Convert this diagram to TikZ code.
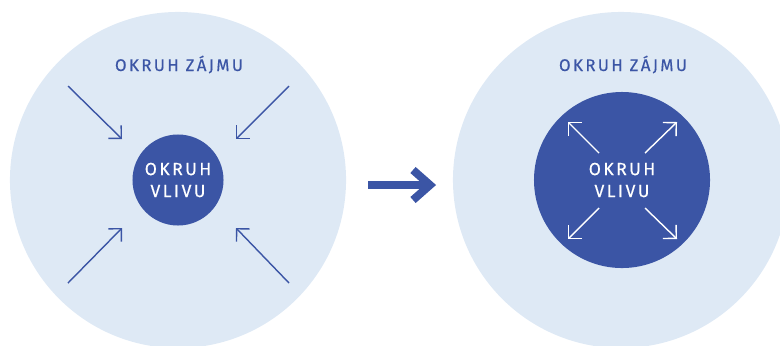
\documentclass[tikz,border=0pt]{standalone}
\usepackage{fontspec}
\setmainfont{Fira Sans}
\newfontfamily\spaced[LetterSpace=14,FakeBold=0.4]{Fira Sans}
\usetikzlibrary{arrows.meta}
\definecolor{okblue}{RGB}{59,85,165}
\definecolor{oklight}{RGB}{222,233,245}

\begin{document}
\begin{tikzpicture}[x=0.025cm,y=-0.025cm,
  zone/.style={circle,fill=oklight,minimum size=8.4cm,inner sep=0pt},
  core/.style={circle,fill=okblue,inner sep=0pt,text=white,align=center,
    font=\spaced\fontsize{12.5}{15.6}\selectfont},
  zonetext/.style={text=okblue,anchor=base,inner sep=0pt,
    font=\spaced\fontsize{12}{14}\selectfont},
  inarrow/.style={okblue,line width=1pt,-{Straight Barb[angle=90:9.2pt]}},
  outarrow/.style={white,line width=1pt,-{Straight Barb[angle=90:9.5pt]}}]
\useasboundingbox (0,0) rectangle (780,345);
\clip (0,0) rectangle (780,345);

% left: small circle of influence
\node[zone] (zajemL) at (178,180) {};
\node[zonetext] (textL) at (179,71) {OKRUH ZÁJMU};
\node[core,minimum size=2.275cm] (vlivL) at (178,180) {OKRUH\\VLIVU};
\foreach \sx/\sy/\tx/\ty [count=\i] in {68/86/122/139, 289/86/236/139, 68/283/122/228, 289/283/236/228}{
  \coordinate (inS\i) at (\sx,\sy);
  \coordinate (inT\i) at (\tx,\ty);
  \draw[inarrow] (inS\i) -- (inT\i);
}

% big arrow
\coordinate (goS) at (368,185);
\coordinate (goT) at (428,185);
\draw[okblue,line width=0.2cm] (goS) -- (goT);
\draw[okblue,line width=0.2cm,line join=miter] ([shift={(-15,-15)}]goT) -- ([shift={(2,0)}]goT) -- ([shift={(-15,15)}]goT);

% right: large circle of influence
\node[zone] (zajemR) at (621,180) {};
\node[zonetext] (textR) at (623,71) {OKRUH ZÁJMU};
\node[core,minimum size=4.4cm] (vlivR) at (622,180) {OKRUH\\VLIVU};
\foreach \sx/\sy/\tx/\ty [count=\i] in {599/153/568/122, 645/153/677/122, 599/208/568/239, 645/208/677/239}{
  \coordinate (outS\i) at (\sx,\sy);
  \coordinate (outT\i) at (\tx,\ty);
  \draw[outarrow] (outS\i) -- (outT\i);
}
\end{tikzpicture}
\end{document}
